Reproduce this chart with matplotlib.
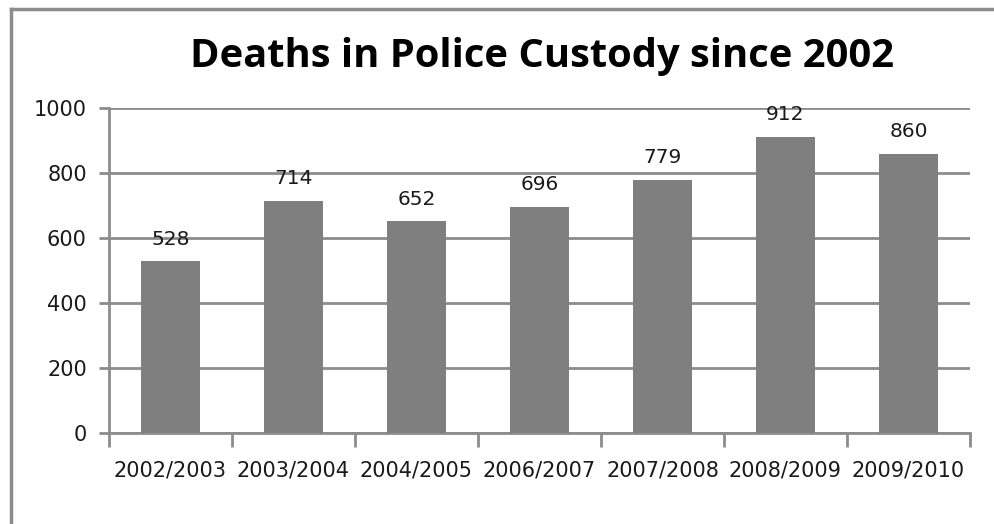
import matplotlib
matplotlib.use("Agg")
import matplotlib.pyplot as plt
from matplotlib.lines import Line2D
import numpy as np

categories = ["2002/2003", "2003/2004", "2004/2005", "2006/2007", "2007/2008", "2008/2009", "2009/2010"]
values = [528, 714, 652, 696, 779, 912, 860]
yticks = [0, 200, 400, 600, 800, 1000]

W, H = 995, 524
fig = plt.figure(figsize=(W / 100, H / 100), dpi=100)
fig.patch.set_facecolor("white")

ax = fig.add_axes([109 / W, 1 - 433 / H, (970 - 109) / W, (433 - 108) / H])
x = np.arange(len(categories))
gray = "#8c8c8c"

ax.set_axisbelow(True)
ax.bar(x, values, width=0.48, color="#7f7f7f", zorder=3)
ax.set_xlim(-0.5, len(categories) - 0.5)
ax.set_ylim(0, 1000)
ax.set_yticks(yticks)
ax.set_yticklabels([str(v) for v in yticks], fontsize=15, color="#1a1a1a", family="DejaVu Sans")
ax.yaxis.grid(True, color=gray, linewidth=2)
ax.tick_params(axis="y", length=7, width=2, color=gray, pad=9)

ax.set_xticks(x)
ax.set_xticklabels(categories, fontsize=15, color="#1a1a1a", family="DejaVu Sans")
ax.tick_params(axis="x", which="major", length=0, pad=20)
ax.set_xticks(np.arange(-0.5, len(categories), 1.0), minor=True)
ax.tick_params(axis="x", which="minor", length=10, width=2, color=gray)

for s in ["top", "right"]:
    ax.spines[s].set_visible(False)
for s in ["left", "bottom"]:
    ax.spines[s].set_color(gray)
    ax.spines[s].set_linewidth(2)

for xi, v in zip(x, values):
    ax.annotate(str(v), (xi, v), xytext=(0, 9), textcoords="offset points",
                ha="center", va="bottom", fontsize=14.5, color="#1a1a1a", family="DejaVu Sans")

fig.text(542 / W, 1 - 57 / H, "Deaths in Police Custody since 2002", ha="center", va="center",
         fontsize=28.7, fontweight="bold", family="Open Sans", color="black")

fig.add_artist(Line2D([11 / W, 11 / W], [1 - 9 / H, 0], color=gray, linewidth=2.5, transform=fig.transFigure))
fig.add_artist(Line2D([11 / W, 1], [1 - 9 / H, 1 - 9 / H], color=gray, linewidth=2.5, transform=fig.transFigure))

fig.savefig("out.png", dpi=100, facecolor="white")
